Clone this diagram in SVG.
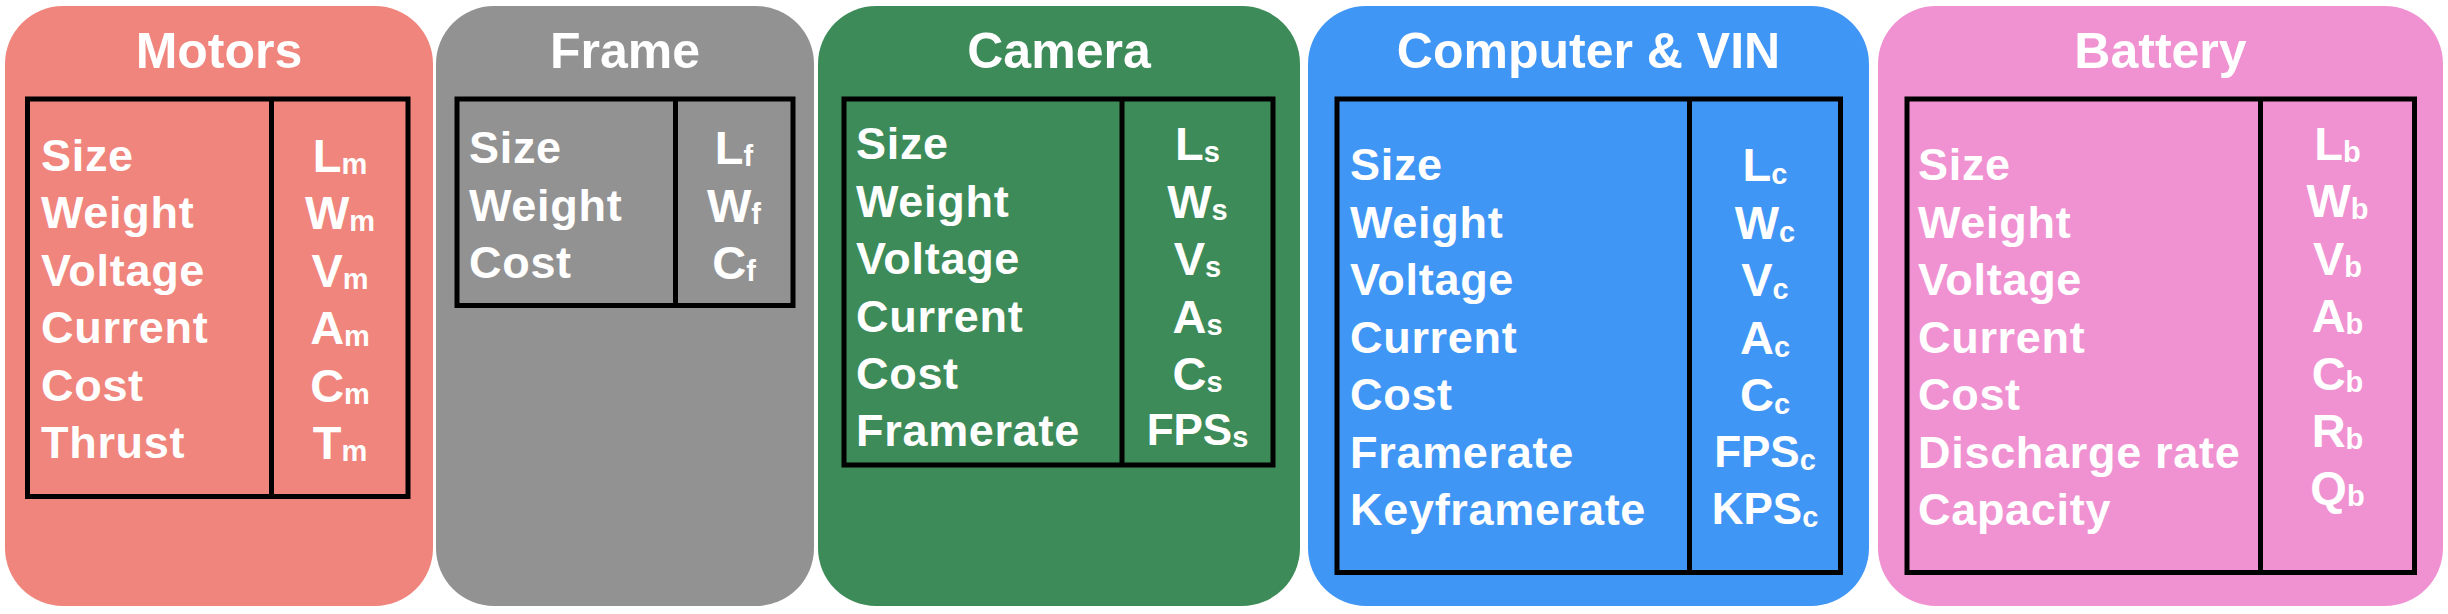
<svg xmlns="http://www.w3.org/2000/svg" width="2448" height="614" viewBox="0 0 2448 614">
<style>
.card{stroke:none}
.tbl{fill:none;stroke:#000;stroke-width:5}
.title{font-family:"Liberation Sans",Arial,Helvetica,sans-serif;font-weight:bold;font-size:50px;fill:#fff;text-anchor:middle}
.lbl{font-family:"Liberation Sans",Arial,Helvetica,sans-serif;font-weight:bold;font-size:45px;fill:#fff;letter-spacing:0.7px}
.sym{font-family:"Liberation Sans",Arial,Helvetica,sans-serif;font-weight:bold;font-size:47px;fill:#fff;text-anchor:middle}
.sym2{font-size:44px}
.sub{font-size:29px}
</style>
<rect width="2448" height="614" fill="#fff"/>

<g id="motors">
<rect class="card" x="5" y="6" width="428" height="600" rx="58" fill="#EF857C"/>
<text class="title" x="219" y="68">Motors</text>
<rect class="tbl" x="27.5" y="99" width="380.5" height="397.5"/>
<line class="tbl" x1="271.5" y1="99" x2="271.5" y2="496.5"/>
<text class="lbl" x="41" y="171">Size</text>
<text class="lbl" x="41" y="228.4">Weight</text>
<text class="lbl" x="41" y="285.8">Voltage</text>
<text class="lbl" x="41" y="343.2">Current</text>
<text class="lbl" x="41" y="400.6">Cost</text>
<text class="lbl" x="41" y="458">Thrust</text>
<text class="sym" x="340" y="172">L<tspan class="sub" dy="2">m</tspan></text>
<text class="sym" x="340" y="229.4">W<tspan class="sub" dy="2">m</tspan></text>
<text class="sym" x="340" y="286.8">V<tspan class="sub" dy="2">m</tspan></text>
<text class="sym" x="340" y="344.2">A<tspan class="sub" dy="2">m</tspan></text>
<text class="sym" x="340" y="401.6">C<tspan class="sub" dy="2">m</tspan></text>
<text class="sym" x="340" y="459">T<tspan class="sub" dy="2">m</tspan></text>
</g>

<g id="frame">
<rect class="card" x="436" y="6" width="378" height="600" rx="58" fill="#929292"/>
<text class="title" x="625" y="68">Frame</text>
<rect class="tbl" x="457" y="99" width="336" height="206.5"/>
<line class="tbl" x1="675.5" y1="99" x2="675.5" y2="305.5"/>
<text class="lbl" x="469" y="163">Size</text>
<text class="lbl" x="469" y="220.5">Weight</text>
<text class="lbl" x="469" y="278">Cost</text>
<text class="sym" x="734" y="164">L<tspan class="sub" dy="2">f</tspan></text>
<text class="sym" x="734" y="221.5">W<tspan class="sub" dy="2">f</tspan></text>
<text class="sym" x="734" y="279">C<tspan class="sub" dy="2">f</tspan></text>
</g>

<g id="camera">
<rect class="card" x="818" y="6" width="482" height="600" rx="58" fill="#3D8B58"/>
<text class="title" x="1059" y="68">Camera</text>
<rect class="tbl" x="844" y="99" width="429" height="366"/>
<line class="tbl" x1="1122" y1="99" x2="1122" y2="465"/>
<text class="lbl" x="856" y="159">Size</text>
<text class="lbl" x="856" y="216.5">Weight</text>
<text class="lbl" x="856" y="274">Voltage</text>
<text class="lbl" x="856" y="331.5">Current</text>
<text class="lbl" x="856" y="389">Cost</text>
<text class="lbl" x="856" y="446">Framerate</text>
<text class="sym" x="1197.5" y="160">L<tspan class="sub" dy="2">s</tspan></text>
<text class="sym" x="1197.5" y="217.5">W<tspan class="sub" dy="2">s</tspan></text>
<text class="sym" x="1197.5" y="275">V<tspan class="sub" dy="2">s</tspan></text>
<text class="sym" x="1197.5" y="332.5">A<tspan class="sub" dy="2">s</tspan></text>
<text class="sym" x="1197.5" y="390">C<tspan class="sub" dy="2">s</tspan></text>
<text class="sym sym2" x="1197.5" y="445">FPS<tspan class="sub" dy="2">s</tspan></text>
</g>

<g id="computer">
<rect class="card" x="1308" y="6" width="561" height="600" rx="58" fill="#4096F5"/>
<text class="title" x="1588.5" y="68">Computer &amp; VIN</text>
<rect class="tbl" x="1337" y="99" width="503.5" height="473.5"/>
<line class="tbl" x1="1689.5" y1="99" x2="1689.5" y2="572.5"/>
<text class="lbl" x="1350" y="180">Size</text>
<text class="lbl" x="1350" y="237.5">Weight</text>
<text class="lbl" x="1350" y="295">Voltage</text>
<text class="lbl" x="1350" y="352.5">Current</text>
<text class="lbl" x="1350" y="410">Cost</text>
<text class="lbl" x="1350" y="467.5">Framerate</text>
<text class="lbl" x="1350" y="525">Keyframerate</text>
<text class="sym" x="1765" y="181">L<tspan class="sub" dy="3">c</tspan></text>
<text class="sym" x="1765" y="238.5">W<tspan class="sub" dy="3">c</tspan></text>
<text class="sym" x="1765" y="296">V<tspan class="sub" dy="3">c</tspan></text>
<text class="sym" x="1765" y="353.5">A<tspan class="sub" dy="3">c</tspan></text>
<text class="sym" x="1765" y="411">C<tspan class="sub" dy="3">c</tspan></text>
<text class="sym sym2" x="1765" y="467">FPS<tspan class="sub" dy="3">c</tspan></text>
<text class="sym sym2" x="1765" y="524">KPS<tspan class="sub" dy="3">c</tspan></text>
</g>

<g id="battery">
<rect class="card" x="1878" y="6" width="565" height="600" rx="58" fill="#F092D2"/>
<text class="title" x="2160.5" y="68">Battery</text>
<rect class="tbl" x="1907" y="99" width="507.5" height="473.5"/>
<line class="tbl" x1="2260.5" y1="99" x2="2260.5" y2="572.5"/>
<text class="lbl" x="1918" y="180">Size</text>
<text class="lbl" x="1918" y="237.5">Weight</text>
<text class="lbl" x="1918" y="295">Voltage</text>
<text class="lbl" x="1918" y="352.5">Current</text>
<text class="lbl" x="1918" y="410">Cost</text>
<text class="lbl" x="1918" y="467.5">Discharge rate</text>
<text class="lbl" x="1918" y="525">Capacity</text>
<text class="sym" x="2337.5" y="160">L<tspan class="sub" dy="2">b</tspan></text>
<text class="sym" x="2337.5" y="217.4">W<tspan class="sub" dy="2">b</tspan></text>
<text class="sym" x="2337.5" y="274.8">V<tspan class="sub" dy="2">b</tspan></text>
<text class="sym" x="2337.5" y="332.2">A<tspan class="sub" dy="2">b</tspan></text>
<text class="sym" x="2337.5" y="389.6">C<tspan class="sub" dy="2">b</tspan></text>
<text class="sym" x="2337.5" y="447">R<tspan class="sub" dy="2">b</tspan></text>
<text class="sym" x="2337.5" y="504.4">Q<tspan class="sub" dy="2">b</tspan></text>
</g>
</svg>
